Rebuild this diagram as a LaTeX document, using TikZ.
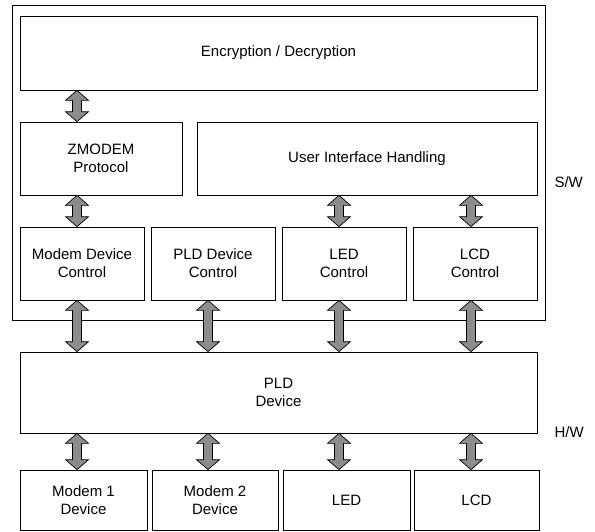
\documentclass[tikz,border=0pt]{standalone}
\usepackage{fontspec}
\setmainfont{Liberation Sans}
\usetikzlibrary{calc}

\tikzset{
  blk/.style={draw, line width=0.7pt, align=center, inner sep=0pt,
              font=\fontsize{15}{18}\selectfont},
  busfill/.style={fill=black!45, draw=black, line width=0.7pt, line join=miter},
  side/.style={anchor=west, font=\fontsize{15}{18}\selectfont},
}
% fat double-headed bus arrow between two points
\newcommand\busarrow[2]{%
  \filldraw[busfill] let \p1=(#1), \p2=(#2) in
    (\x1,\y1) -- (\x1+11.5pt,\y1-10pt) -- (\x1+4.5pt,\y1-10pt) -- (\x1+4.5pt,\y2+10pt)
    -- (\x1+11.5pt,\y2+10pt) -- (\x1,\y2) -- (\x1-11.5pt,\y2+10pt) -- (\x1-4.5pt,\y2+10pt)
    -- (\x1-4.5pt,\y1-10pt) -- (\x1-11.5pt,\y1-10pt) -- cycle;}

\begin{document}
\begin{tikzpicture}[x=1pt, y=-1pt]
  \useasboundingbox (0,0) rectangle (595,531);

  % software frame
  \node[draw, line width=0.7pt, minimum width=533pt, minimum height=315pt] (sw) at (278.5,162.5) {};
  \node[side] (swl) at (551,182) {S/W};
  \node[side] (hwl) at (551,432) {H/W};

  % S/W layers
  \node[blk, minimum width=517pt, minimum height=74pt] (enc) at (278.5,53) {Encryption / Decryption};
  \node[blk, minimum width=162pt, minimum height=73pt] (zm) at (101,158.5) {ZMODEM\\Protocol};
  \node[blk, minimum width=340pt, minimum height=73pt] (ui) at (367,158.5) {User Interface Handling};

  \node[blk, minimum width=124pt, minimum height=73pt] (mdc) at (82,263.5) {Modem Device\\Control};
  \node[blk, minimum width=124pt, minimum height=73pt] (pdc) at (213,263.5) {PLD Device\\Control};
  \node[blk, minimum width=124pt, minimum height=73pt] (ledc) at (344,263.5) {LED\\Control};
  \node[blk, minimum width=124pt, minimum height=73pt] (lcdc) at (475,263.5) {LCD\\Control};

  % H/W
  \node[blk, minimum width=517pt, minimum height=81pt] (pld) at (278.5,392.5) {PLD\\Device};

  \node[blk, minimum width=127pt, minimum height=60pt] (m1) at (83.5,500) {Modem 1\\Device};
  \node[blk, minimum width=126pt, minimum height=60pt] (m2) at (215,500) {Modem 2\\Device};
  \node[blk, minimum width=127pt, minimum height=60pt] (led) at (346.5,500) {LED};
  \node[blk, minimum width=125pt, minimum height=60pt] (lcd) at (476.5,500) {LCD};

  % bus columns
  \coordinate (c1) at (77,0);
  \coordinate (c2) at (208,0);
  \coordinate (c3) at (339,0);
  \coordinate (c4) at (471,0);

  \busarrow{enc.south -| c1}{zm.north -| c1}
  \busarrow{zm.south -| c1}{mdc.north -| c1}
  \busarrow{ui.south -| c3}{ledc.north -| c3}
  \busarrow{ui.south -| c4}{lcdc.north -| c4}

  \busarrow{mdc.south -| c1}{pld.north -| c1}
  \busarrow{pdc.south -| c2}{pld.north -| c2}
  \busarrow{ledc.south -| c3}{pld.north -| c3}
  \busarrow{lcdc.south -| c4}{pld.north -| c4}

  \busarrow{pld.south -| c1}{m1.north -| c1}
  \busarrow{pld.south -| c2}{m2.north -| c2}
  \busarrow{pld.south -| c3}{led.north -| c3}
  \busarrow{pld.south -| c4}{lcd.north -| c4}
\end{tikzpicture}
\end{document}
